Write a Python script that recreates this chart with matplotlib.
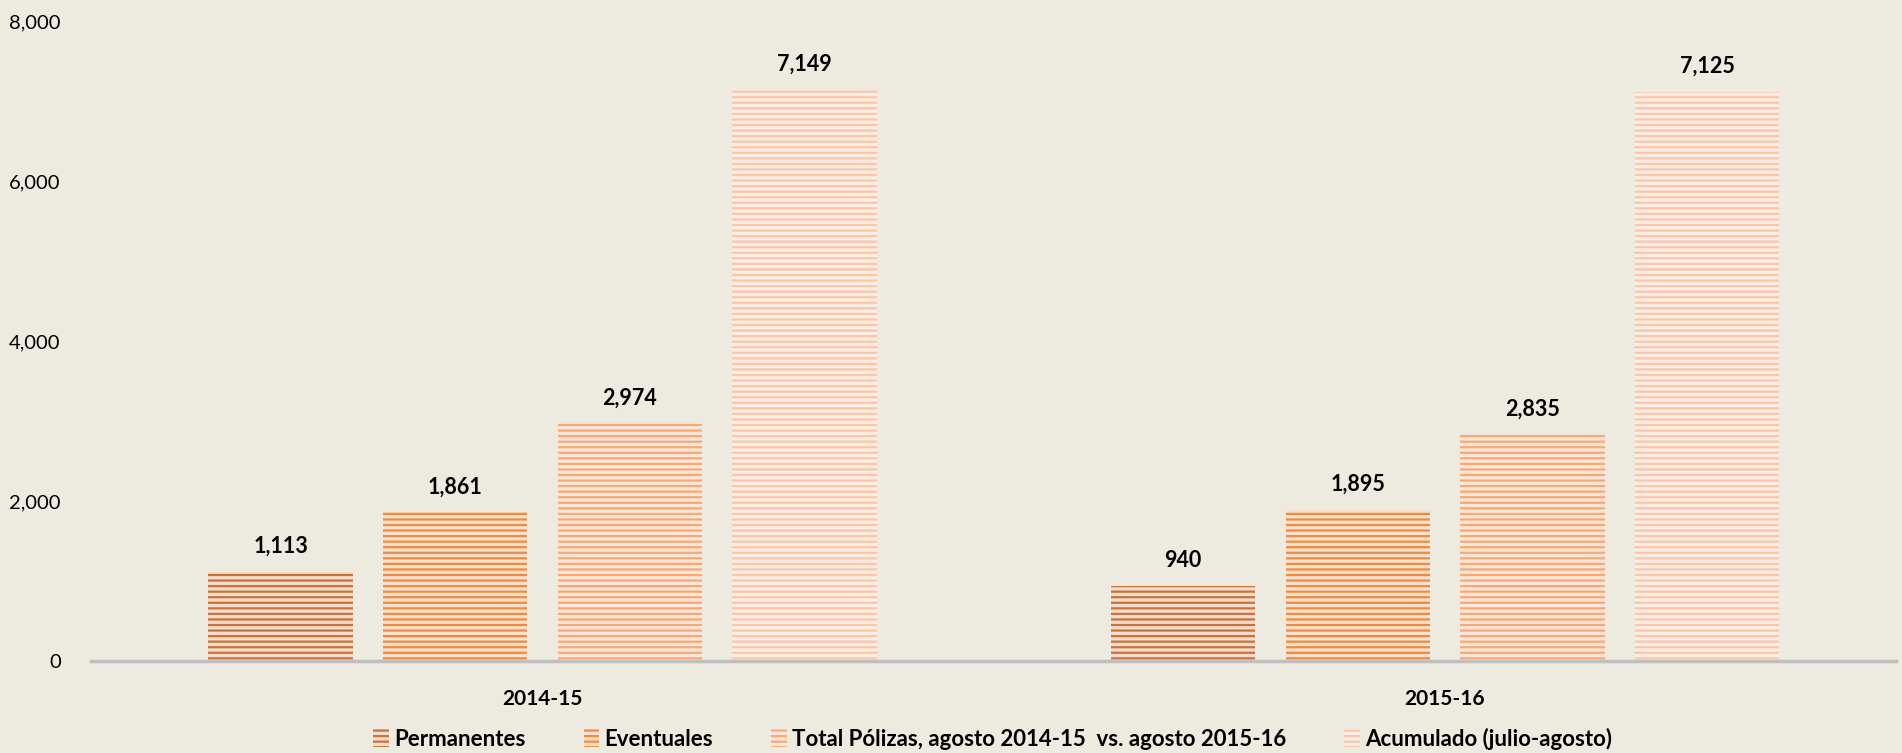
import numpy as np
import matplotlib.pyplot as plt
from matplotlib.patches import Patch

# datos
periodos = ['2014-15', '2015-16']
series = ['Permanentes', 'Eventuales',
          'Total Pólizas, agosto 2014-15  vs. agosto 2015-16',
          'Acumulado (julio-agosto)']
permanentes = [1113, 940]
eventuales = [1861, 1895]
total_polizas = [2974, 2835]
acumulado = [7149, 7125]

valores = [permanentes, eventuales, total_polizas, acumulado]
colores = ['#C8733A', '#EE8B3E', '#F7A877', '#F9C6AA']
fondos = ['#F3DCCB', '#F8E0CC', '#FBE6D8', '#FCEDE4']

plt.rcParams['font.family'] = ['Lato', 'DejaVu Sans']
plt.rcParams['hatch.linewidth'] = 1.6

fig = plt.figure(figsize=(19.02, 7.53), dpi=100, facecolor='#EDEAE0')
ax = fig.add_axes([0.048, 0.122, 0.949, 0.849])
ax.set_facecolor('#EDEAE0')

x = np.arange(len(periodos))
paso = 0.1935
ancho = 0.16
for i, (vals, c, f) in enumerate(zip(valores, colores, fondos)):
    pos = x + (i - 1.5) * paso
    ax.bar(pos, vals, ancho, color=f, edgecolor=c, hatch='---', linewidth=0)
    for p, v in zip(pos, vals):
        ax.text(p, v + 190, f'{v:,}', ha='center', va='bottom',
                fontsize=15.5, fontweight='bold', color='black')

ax.set_xlim(-0.5, 1.5)
ax.set_ylim(0, 8000)
ax.set_yticks(np.arange(0, 8001, 2000))
ax.set_yticklabels([f'{t:,}' for t in range(0, 8001, 2000)], fontsize=14.5)
ax.set_xticks(x)
ax.set_xticklabels(periodos, fontsize=15, fontweight='bold')
ax.tick_params(axis='both', length=0)
ax.tick_params(axis='y', pad=22)
ax.tick_params(axis='x', pad=20)
for s in ['top', 'right', 'left']:
    ax.spines[s].set_visible(False)
ax.spines['bottom'].set_color('#BFBFBF')
ax.spines['bottom'].set_linewidth(2.5)

handles = [Patch(facecolor=f, edgecolor=c, hatch='---', linewidth=0)
           for c, f in zip(colores, fondos)]
fig.legend(handles, series, loc='lower center', bbox_to_anchor=(0.522, -0.022),
           ncol=4, frameon=False, prop={'size': 16, 'weight': 'bold'},
           handlelength=0.7, handleheight=0.9, handletextpad=0.25, columnspacing=2.6)

fig.savefig('out.png', dpi=100, facecolor=fig.get_facecolor())
